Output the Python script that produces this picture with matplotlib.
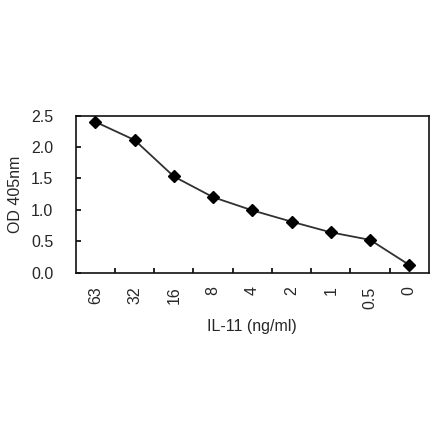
import numpy as np
import matplotlib.pyplot as plt

plt.rcParams['font.family'] = ['Liberation Sans', 'DejaVu Sans']

# データ
conc_labels = ['63', '32', '16', '8', '4', '2', '1', '0.5', '0']
od_values = [2.40, 2.11, 1.53, 1.20, 0.99, 0.81, 0.64, 0.52, 0.12]
y_ticks = [0.0, 0.5, 1.0, 1.5, 2.0, 2.5]

txt = '#262626'
fs = 11.5

fig = plt.figure(figsize=(4.4, 4.41), dpi=100)
ax = fig.add_axes([0.172, 0.382, 0.803, 0.356])

x = np.arange(len(conc_labels))
ax.plot(x, od_values, color='#303030', lw=1.3, marker='D', ms=6.5,
        mfc='black', mec='black', zorder=3, clip_on=False)

ax.set_xlim(-0.5, len(conc_labels) - 0.5)
ax.set_ylim(0, 2.5)

# 目盛り
ax.set_xticks(x)
ax.set_xticklabels(conc_labels, rotation=90, fontsize=fs, color=txt)
ax.set_xticks(np.arange(0.5, len(conc_labels) - 0.5), minor=True)
ax.tick_params(axis='x', which='major', length=0, pad=10)
ax.tick_params(axis='x', which='minor', direction='in', length=3.5, width=1.2)

ax.set_yticks(y_ticks)
ax.set_yticklabels([f'{v:.1f}' for v in y_ticks], fontsize=fs, color=txt)
ax.tick_params(axis='y', direction='in', length=3.5, width=1.2, pad=16)

for s in ax.spines.values():
    s.set_linewidth(1.2)
    s.set_color('#111111')

ax.set_xlabel('IL-11 (ng/ml)', fontsize=fs, color=txt, labelpad=7.5)
ax.set_ylabel('OD 405nm', fontsize=fs, color=txt, labelpad=6)

fig.savefig('out.png', dpi=100)
